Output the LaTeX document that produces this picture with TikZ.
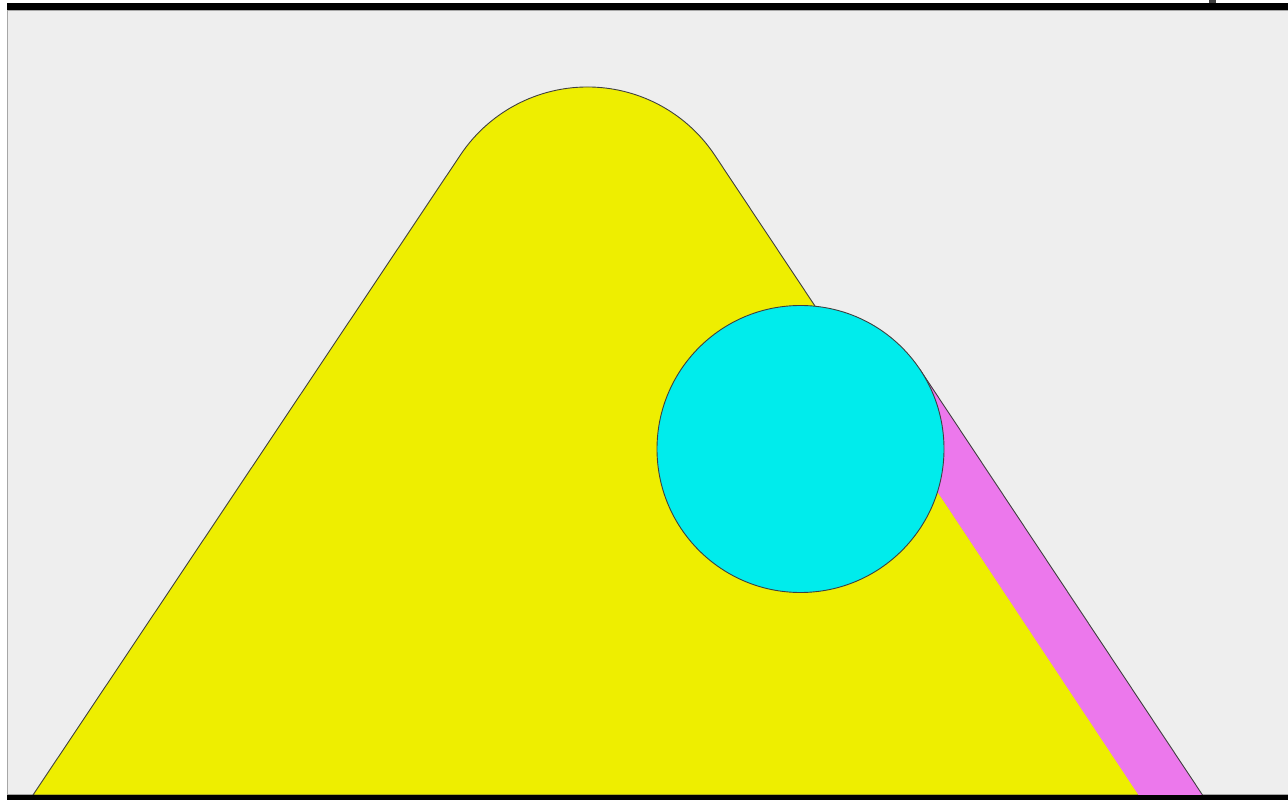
\documentclass[tikz,border=0pt]{standalone}
\definecolor{bgc}{HTML}{EEEEEE}
\definecolor{ylw}{HTML}{EEEE00}
\definecolor{cyn}{HTML}{00ECEC}
\definecolor{pnk}{HTML}{EC78EC}
\definecolor{edge}{HTML}{404040}
\tikzset{
  shapeedge/.style={draw=edge, line width=0.9pt},
  barfill/.style={fill=black},
}
\begin{document}
\begin{tikzpicture}[x=1pt,y=1pt]
\useasboundingbox (0,0) rectangle (1288,800);
% page and panel
\fill[white] (0,0) rectangle (1288,800);
\fill[bgc] (7,5) rectangle (1288,790);
\draw[gray!70, line width=1pt] (7.5,5) -- (7.5,790);
\draw[gray!70, line width=1pt] (7,789.5) -- (1288,789.5);
\draw[gray!70, line width=1pt] (7,5.5) -- (1288,5.5);
% yellow rounded triangle
\path[fill=ylw, shapeedge] (33,5) -- (460.4,645) arc[start angle=146.3, end angle=33.7, radius=152.8] -- (1140,5) -- cycle;
% pink band
\coordinate (pb1) at (1138.5,5);
\coordinate (pb2) at (1202.5,5);
\coordinate (pt) at (920,430.4);
\coordinate (pi) at (875.5,401.6);
\fill[pnk] (pb1) -- (pb2) -- (pt) -- (pi) -- cycle;
\draw[shapeedge] (pb2) -- (pt);
% cyan circle
\node[circle, fill=cyn, shapeedge, minimum size=287pt, inner sep=0pt] (c) at (800.5,351) {};
% frame bars
\fill[black] (7,790) rectangle (1288,797);
\fill[black] (7,0) rectangle (1288,5);
\fill[edge] (1209,797) rectangle (1216,800);
\end{tikzpicture}
\end{document}
